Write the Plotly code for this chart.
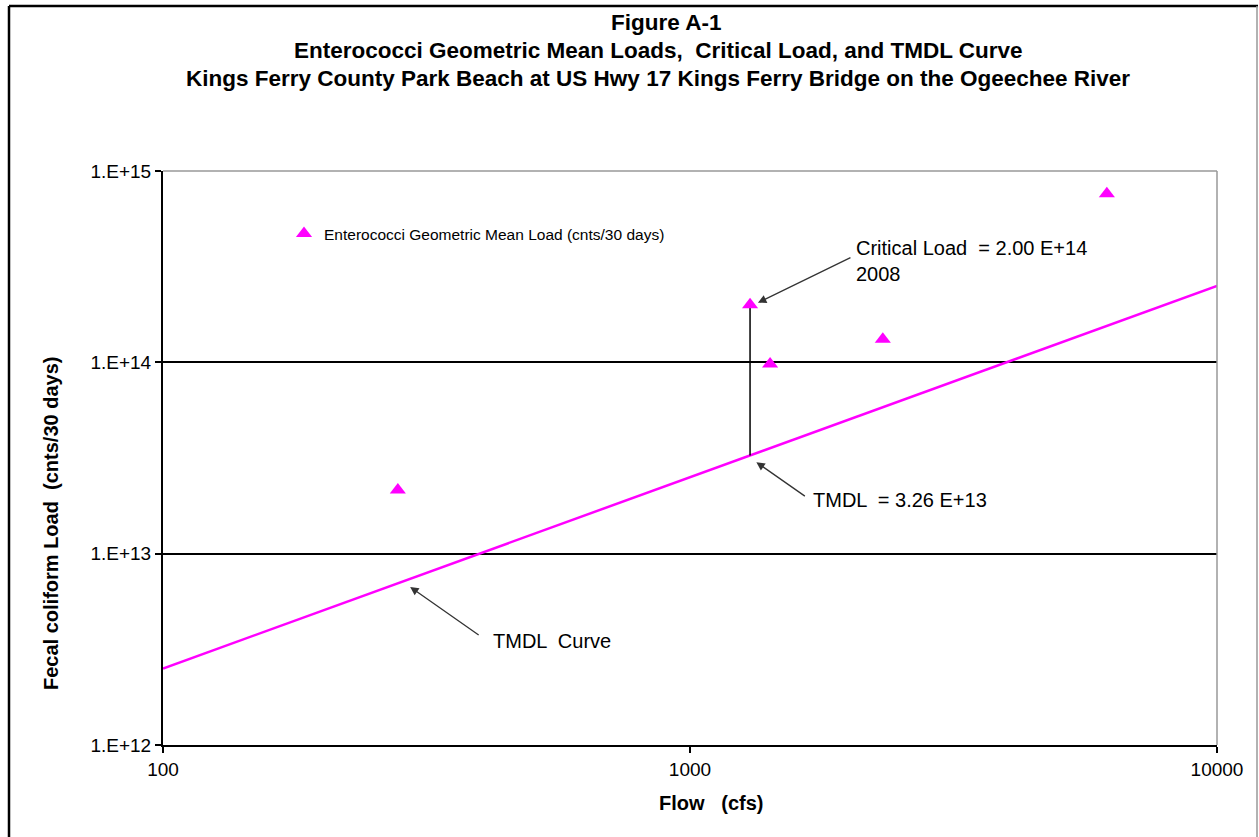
import math
import plotly.graph_objects as go

# ---- data ----
flow_cfs = [279, 1300, 1419, 2322, 6180]
geo_mean_load = [2.15e13, 2.00e14, 9.8e13, 1.32e14, 7.6e14]

tmdl_flow = [100, 10000]
tmdl_load = [2.51e12, 2.51e14]

critical_flow = 1300
critical_load = 2.00e14
tmdl_at_critical = 3.26e13

y_tick_vals = [1e12, 1e13, 1e14, 1e15]
y_tick_text = ["1.E+12", "1.E+13", "1.E+14", "1.E+15"]
x_tick_vals = [100, 1000, 10000]
x_tick_text = ["100", "1000", "10000"]

FONT = "Liberation Sans, Arial, sans-serif"
MAGENTA = "#FF00FF"

fig = go.Figure()

fig.add_trace(go.Scatter(
    x=tmdl_flow, y=tmdl_load, mode="lines",
    line=dict(color=MAGENTA, width=2.5), showlegend=False, hoverinfo="skip"))

fig.add_trace(go.Scatter(
    x=[critical_flow, critical_flow], y=[tmdl_at_critical, critical_load],
    mode="lines", line=dict(color="black", width=1.5), showlegend=False, hoverinfo="skip"))

fig.add_trace(go.Scatter(
    x=flow_cfs, y=geo_mean_load, mode="markers",
    marker=dict(symbol="triangle-up", size=14, color=MAGENTA),
    name="Enterococci Geometric Mean Load (cnts/30 days)"))

# geometry of plot area in pixels
L, R, T, B = 163, 1217, 171, 745
W, H = 1259, 837
pw, ph = R - L, B - T

def px(xp):
    return (xp - L) / pw

def py(yp):
    return (B - yp) / ph

title_lines = [
    "Figure A-1",
    "Enterococci Geometric Mean Loads,  Critical Load, and TMDL Curve",
    "Kings Ferry County Park Beach at US Hwy 17 Kings Ferry Bridge on the Ogeechee River",
]
title_y = [23, 51, 79]
title_x = [666, 658, 658]
annotations = []
for t, xx, yy in zip(title_lines, title_x, title_y):
    annotations.append(dict(
        text="<b>%s</b>" % t, xref="paper", yref="paper", x=px(xx), y=py(yy),
        xanchor="center", yanchor="middle", showarrow=False,
        font=dict(family=FONT, size=22.5, color="black")))

# axis titles
annotations.append(dict(
    text="<b>Flow   (cfs)</b>", xref="paper", yref="paper", x=px(711), y=py(803),
    xanchor="center", yanchor="middle", showarrow=False,
    font=dict(family=FONT, size=20, color="black")))
annotations.append(dict(
    text="<b>Fecal coliform Load  (cnts/30 days)</b>", xref="paper", yref="paper",
    x=px(51), y=py(524), xanchor="center", yanchor="middle", textangle=-90,
    showarrow=False, font=dict(family=FONT, size=20, color="black")))

lf = math.log10
# arrow to critical load point
annotations.append(dict(
    x=lf(critical_flow) + 0.015, y=lf(critical_load) + 0.01, xref="x", yref="y",
    text="", showarrow=True, arrowhead=2, arrowsize=1.3, arrowwidth=1.3,
    arrowcolor="#333333", ax=94, ay=-46, standoff=0))
annotations.append(dict(
    x=px(854), y=py(261), xref="paper", yref="paper", xanchor="left", yanchor="middle",
    text="Critical Load  = 2.00 E+14<br>2008", align="left", showarrow=False,
    font=dict(family=FONT, size=20, color="black")))
# arrow to TMDL at critical flow
annotations.append(dict(
    x=lf(critical_flow) + 0.012, y=lf(tmdl_at_critical) - 0.035, xref="x", yref="y",
    text="", showarrow=True, arrowhead=2, arrowsize=1.3, arrowwidth=1.3,
    arrowcolor="#333333", ax=50, ay=35, standoff=0))
annotations.append(dict(
    x=px(811), y=py(500), xref="paper", yref="paper", xanchor="left", yanchor="middle",
    text="TMDL  = 3.26 E+13", showarrow=False,
    font=dict(family=FONT, size=20, color="black")))
# arrow to TMDL curve
annotations.append(dict(
    x=2.469, y=12.826, xref="x", yref="y",
    text="", showarrow=True, arrowhead=2, arrowsize=1.3, arrowwidth=1.3,
    arrowcolor="#333333", ax=70, ay=49, standoff=0))
annotations.append(dict(
    x=px(491), y=py(641), xref="paper", yref="paper", xanchor="left", yanchor="middle",
    text="TMDL  Curve", showarrow=False,
    font=dict(family=FONT, size=20, color="black")))

shapes = [
    # plot area top and right border (gray)
    dict(type="line", xref="paper", yref="paper", x0=0, x1=1, y0=1, y1=1,
         line=dict(color="#999999", width=1.5)),
    dict(type="line", xref="paper", yref="paper", x0=1, x1=1, y0=0, y1=1,
         line=dict(color="#999999", width=1.5)),
    # outer chart border
    dict(type="line", xref="paper", yref="paper", x0=px(9), x1=px(9), y0=py(6), y1=py(900),
         line=dict(color="black", width=2.5)),
    dict(type="line", xref="paper", yref="paper", x0=px(9), x1=px(1258), y0=py(6), y1=py(6),
         line=dict(color="black", width=2.5)),
    dict(type="line", xref="paper", yref="paper", x0=px(1257), x1=px(1257), y0=py(6), y1=py(900),
         line=dict(color="#999999", width=1.5)),
]

fig.update_layout(
    width=W, height=H,
    margin=dict(l=L, r=W - R, t=T, b=H - B, pad=0),
    paper_bgcolor="white", plot_bgcolor="white",
    font=dict(family=FONT, size=16, color="black"),
    showlegend=True,
    legend=dict(x=px(284), y=py(234), xanchor="left", yanchor="middle",
                bgcolor="rgba(0,0,0,0)", font=dict(family=FONT, size=15.5, color="black"),
                itemwidth=30, tracegroupgap=0),
    annotations=annotations,
    shapes=shapes,
)

fig.update_xaxes(
    type="log", range=[2, 4], tickvals=x_tick_vals, ticktext=x_tick_text,
    showgrid=False, zeroline=False, showline=True, linecolor="black", linewidth=2,
    ticks="outside", ticklen=6, tickwidth=1.5, tickcolor="black",
    tickfont=dict(family=FONT, size=19),
)
fig.update_yaxes(
    type="log", range=[12, 15], tickvals=y_tick_vals, ticktext=y_tick_text,
    showgrid=True, gridcolor="black", gridwidth=1.5, zeroline=False,
    showline=True, linecolor="black", linewidth=2,
    ticks="outside", ticklen=6, tickwidth=1.5, tickcolor="black",
    tickfont=dict(family=FONT, size=19),
)

fig.write_html("out.html", config={"displayModeBar": False},
               post_script="document.body.style.margin='0';")
